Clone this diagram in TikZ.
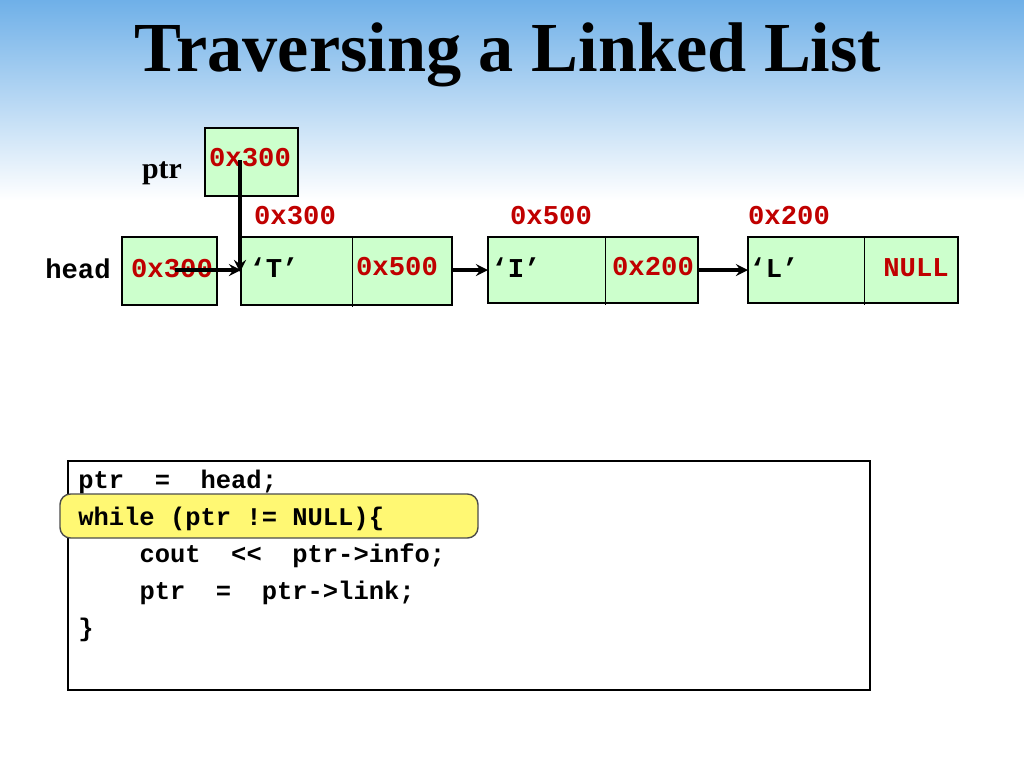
\documentclass[tikz,border=0pt]{standalone}
\usepackage{fontspec}
\setmainfont{Liberation Serif}
\newfontfamily\mono{Liberation Mono}
\definecolor{bx}{HTML}{CCFFCC}
\definecolor{dred}{HTML}{C00000}
\definecolor{sky}{HTML}{6FB0E8}
\begin{document}
\begin{tikzpicture}[x=0.02cm,y=-0.02cm,
  cell/.style={draw=black,fill=bx,line width=0.8pt},
  lbl/.style={font=\mono\bfseries\fontsize{15.5}{18}\selectfont,text=dred,inner sep=0},
  blk/.style={font=\mono\bfseries\fontsize{15.5}{18}\selectfont,inner sep=0},
  code/.style={font=\mono\bfseries\fontsize{14.5}{17}\selectfont,anchor=base west,inner sep=0},
  arr/.style={->,line width=2pt,>=stealth}]
\useasboundingbox (0,0) rectangle (1024,768);
\fill[white] (0,0) rectangle (1024,768);
\shade[top color=sky,bottom color=white] (0,0) rectangle (1024,200);
\node[font=\bfseries\fontsize{40}{46}\selectfont] (title) at (508,55) {Traversing a Linked List};
% ptr
\draw[cell] (205,128) rectangle (298,196);
\node[lbl] (pv) at (250,158) {0x300};
\node[font=\fontsize{17}{20}\selectfont\bfseries,inner sep=0] (ptr) at (162,173) {ptr};
% address labels
\node[lbl] (a1) at (295,216) {0x300};
\node[lbl] (a2) at (551,216) {0x500};
\node[lbl] (a3) at (789,216) {0x200};
% head
\draw[cell] (122,237) rectangle (217,305);
\node[blk] (head) at (78,269) {head};
\node[lbl] (hv) at (172,269) {0x300};
% nodes
\draw[cell] (241,237) rectangle (452,305); \draw (352,237) -- (352,307);
\draw[cell] (488,237) rectangle (698,303); \draw (605,237) -- (605,305);
\draw[cell] (748,237) rectangle (958,303); \draw (864,237) -- (864,305);
\node[blk] (t) at (274,268) {‘T’};
\node[lbl] (n1) at (397,267) {0x500};
\node[blk] (i) at (516,268) {‘I’};
\node[lbl] (n2) at (653,267) {0x200};
\node[blk] (l) at (774,268) {‘L’};
\node[lbl] (n3) at (916,268) {NULL};
% arrows
\coordinate (h0) at (175,270); \coordinate (h1) at (241,270);
\coordinate (p0) at (240,160); \coordinate (p1) at (240,272);
\coordinate (b0) at (452,270); \coordinate (b1) at (488,270);
\coordinate (c0) at (698,270); \coordinate (c1) at (748,270);
\draw[arr] (h0) -- (h1);
\draw[arr] (p0) -- (p1);
\draw[arr] (b0) -- (b1);
\draw[arr] (c0) -- (c1);
% code
\draw[line width=0.8pt,fill=white] (68,461) rectangle (870,690);
\draw[fill=yellow!55,draw=black!70,rounded corners=6pt,line width=0.8pt] (60,494) rectangle (478,538);
\node[code] (c1l) at (78,488) {ptr~~=~~head;};
\node[code] (c2l) at (78,525) {while~(ptr~!=~NULL)\{};
\node[code] (c3l) at (78,562) {~~~~cout~~<<~~ptr->info;};
\node[code] (c4l) at (78,599) {~~~~ptr~~=~~ptr->link;};
\node[code] (c5l) at (78,636) {\}};
\end{tikzpicture}
\end{document}
